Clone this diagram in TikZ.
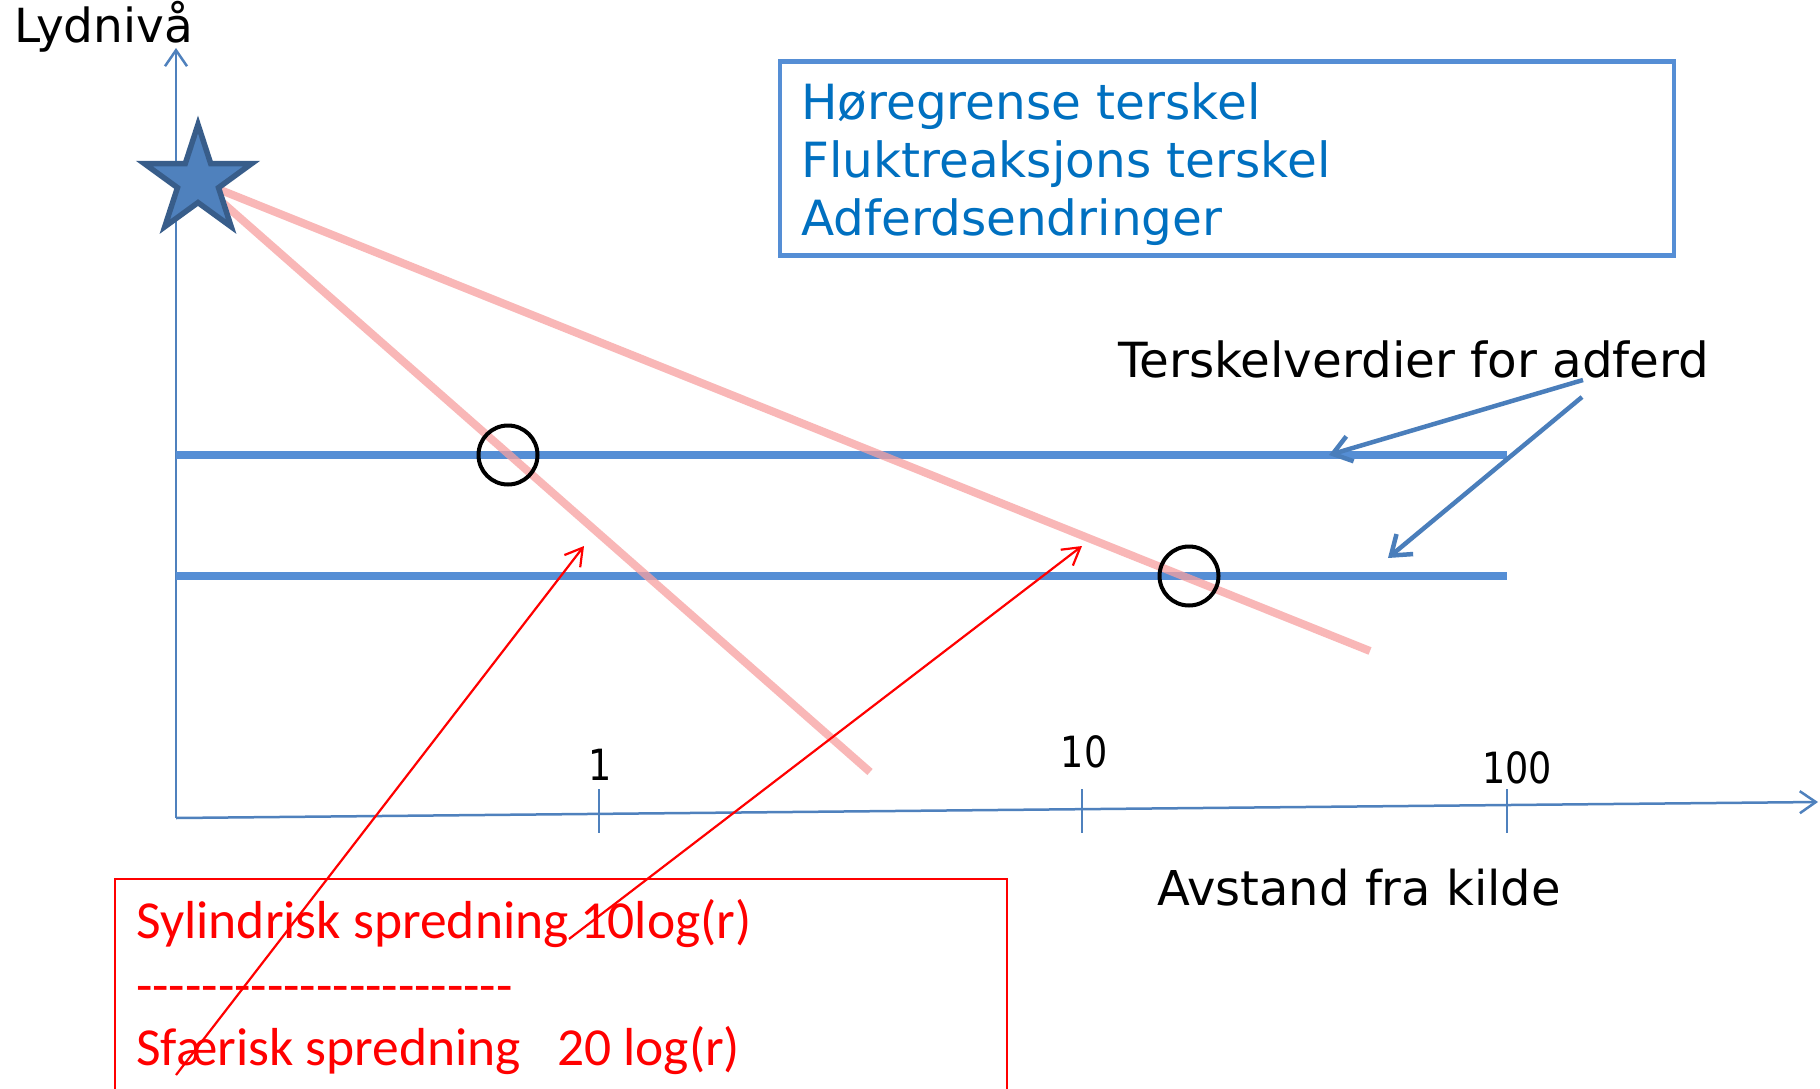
\documentclass[tikz,border=0pt]{standalone}
\usepackage{fontspec}
\setmainfont{DejaVu Sans}
\newfontfamily\calibfont{Carlito}
\newfontfamily\tickfont[FakeStretch=0.85]{DejaVu Sans}
\usetikzlibrary{arrows.meta,shapes.geometric}

\definecolor{axisblue}{RGB}{79,129,189}
\definecolor{lineblue}{RGB}{85,142,213}
\definecolor{textblue}{RGB}{0,112,192}
\definecolor{calloutblue}{RGB}{74,126,187}
\definecolor{starfill}{RGB}{79,129,189}
\definecolor{starline}{RGB}{56,93,138}
\definecolor{raypink}{RGB}{247,160,160}

\newcommand\dashrow{\foreach \k in {1,...,23}{-\kern0pt}}

\tikzset{
  axisline/.style={draw=axisblue, line width=2.5pt},
  axisarrow/.style={axisline, -{Straight Barb[length=16pt,width=22pt]}},
  level/.style={draw=lineblue, line width=8pt},
  ray/.style={draw=raypink, line width=8pt, opacity=0.75},
  ring/.style={circle, draw=black, line width=4pt, minimum size=59pt, inner sep=0pt},
  callout/.style={draw=calloutblue, line width=4.5pt, -{Straight Barb[length=18pt,width=26pt]}},
  pointer/.style={draw=red, line width=2.2pt, -{Straight Barb[length=17pt,width=20pt]}},
  blacklabel/.style={anchor=base west, inner sep=0pt, text=black},
  ticklabel/.style={anchor=base, inner sep=0pt, font=\tickfont\fontsize{43}{50}\selectfont},
  bluetext/.style={anchor=base west, inner sep=0pt, text=textblue, font=\fontsize{48.5}{57}\selectfont},
  redtext/.style={anchor=base west, inner sep=0pt, text=red, font=\calibfont\fontsize{53.5}{64}\selectfont},
}

\begin{document}
\begin{tikzpicture}[x=1pt,y=-1pt]
\useasboundingbox (0,0) rectangle (1820,1089);
\clip (0,0) rectangle (1820,1089);
\fill[white] (0,0) rectangle (1820,1089);

% axes
\coordinate (origin) at (176,818);
\coordinate (ytop) at (176,48);
\coordinate (xend) at (1818,802);
\draw[axisarrow] (origin) -- (ytop);
\draw[axisarrow] (origin) -- (xend);
\node[blacklabel, font=\fontsize{47}{56}\selectfont] (ylabel) at (14,43) {Lydnivå};
\node[blacklabel, font=\fontsize{48}{57}\selectfont] (xlabel) at (1157,905) {Avstand fra kilde};

% decade ticks
\draw[axisline] (599,789) -- (599,833);
\draw[axisline] (1082,789) -- (1082,833);
\draw[axisline] (1507,789) -- (1507,833);
\node[ticklabel] (t1) at (600,780) {1};
\node[ticklabel] (t10) at (1084,767) {10};
\node[ticklabel] (t100) at (1517,783) {100};

% threshold levels
\coordinate (upL) at (176,455);
\coordinate (upR) at (1507,455);
\coordinate (loL) at (176,576);
\coordinate (loR) at (1507,576);
\draw[level] (upL) -- (upR);
\draw[level] (loL) -- (loR);

% spreading loss rays from the source
\coordinate (src) at (198,181);
\coordinate (rayA) at (870,772);
\coordinate (rayB) at (1370,651);
\draw[ray] (src) -- (rayA);
\draw[ray] (src) -- (rayB);

% source
\node[star, star points=5, star point ratio=2.618, minimum size=113pt, inner sep=0pt,
      fill=starfill, draw=starline, line width=5.5pt] (source) at (src) {};

% crossing markers
\node[ring] (hitA) at (508,455) {};
\node[ring] (hitB) at (1189,576) {};

% legend box
\node[draw=lineblue, line width=4.5pt, minimum width=894pt, minimum height=194pt, inner sep=0pt] (legend) at (1227,158.5) {};
\node[bluetext] (lg1) at (801,120) {Høregrense terskel};
\node[bluetext] (lg2) at (801,177) {Fluktreaksjons terskel};
\node[bluetext] (lg3) at (801,235) {Adferdsendringer};

% threshold callout
\node[blacklabel, font=\fontsize{48.4}{58}\selectfont] (thr) at (1118,377) {Terskelverdier for adferd};
\coordinate (thrA) at (1583,380);
\coordinate (thrB) at (1582,397);
\coordinate (onUp) at (1329,455);
\coordinate (onLo) at (1388,558);
\draw[callout] (thrA) -- (onUp);
\draw[callout] (thrB) -- (onLo);

% spreading legend
\node[draw=red, line width=2.5pt, minimum width=892pt, minimum height=242pt, inner sep=0pt] (spread) at (561,1000) {};
\node[redtext] (sp1) at (136,938) {Sylindrisk spredning 10log(r)};
\node[redtext] (sp2) at (136,1003) {\dashrow};
\node[redtext] (sp3) at (136,1065) {\makebox[421pt][l]{Sfærisk spredning}20 log(r)};

% pointers from the legend to the rays
\coordinate (tailA) at (176,1075);
\coordinate (headA) at (584,546);
\coordinate (tailB) at (569,939);
\coordinate (headB) at (1082,546);
\draw[pointer] (tailA) -- (headA);
\draw[pointer] (tailB) -- (headB);
\end{tikzpicture}
\end{document}
